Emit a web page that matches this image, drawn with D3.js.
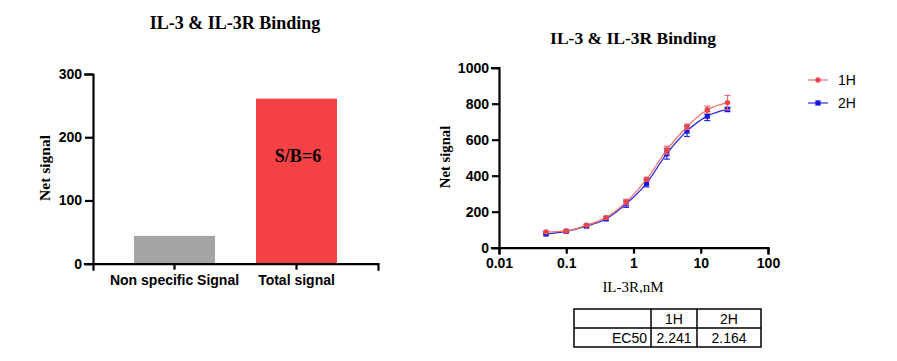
<!DOCTYPE html>
<html>
<head>
<meta charset="utf-8">
<script src="https://cdn.jsdelivr.net/npm/d3@7"></script>
<style>
	body { margin: 0; background: #fff; }
	svg { display: block; }
	.tick text { font-family: "Liberation Sans", Arial, sans-serif; font-weight: bold; font-size: 14px; fill: #000; }
</style>
</head>
<body>
<div id="chart"></div>
<script>
// bar chart data
let barCategories = ["Non specific Signal", "Total signal"];
let barValues = [44, 261];
let barColors = ["#a5a5a8", "#f64245"];

// binding curve data
let concentrations = [0.05, 0.1, 0.2, 0.39, 0.78, 1.56, 3.125, 6.25, 12.5, 25];
let signal1H = [87, 93, 125, 167, 254, 380, 542, 672, 766, 806];
let error1H = [5, 5, 6, 8, 15, 10, 22, 15, 20, 40];
let signal2H = [76, 91, 120, 160, 244, 358, 522, 648, 731, 768];
let error2H = [5, 5, 6, 8, 20, 20, 30, 30, 25, 12];
let seriesNames = ["1H", "2H"];
let xTicks = [0.01, 0.1, 1, 10, 100];
let yTicksBar = [0, 100, 200, 300];
let yTicksCurve = [0, 200, 400, 600, 800, 1000];

// EC50 table
let tableHeader = ["", "1H", "2H"];
let tableRow = ["EC50", "2.241", "2.164"];

let svg = d3.select("#chart").append("svg").attr("width", 897).attr("height", 361);

let serif = "'Liberation Serif', 'Times New Roman', serif";
let sans = "'Liberation Sans', Arial, sans-serif";

//
//	bar chart
//
let xBand = d3.scaleBand().domain(barCategories).range([93, 378]).padding(0.336);
let yBar = d3.scaleLinear().domain([0, 300]).range([263.7, 74]);

svg.append("text").attr("x", 235).attr("y", 29).attr("text-anchor", "middle")
	.style("font-family", serif).style("font-weight", "bold").style("font-size", "18px")
	.text("IL-3 & IL-3R Binding");

svg.selectAll("rect.bar").data(barValues).enter().append("rect")
	.attr("class", "bar")
	.attr("x", (d, i) => xBand(barCategories[i]))
	.attr("y", (d) => yBar(d))
	.attr("width", xBand.bandwidth())
	.attr("height", (d) => yBar(0) - yBar(d))
	.attr("fill", (d, i) => barColors[i]);

svg.append("g").attr("transform", "translate(93,0)")
	.call(d3.axisLeft(yBar).tickValues(yTicksBar).tickSize(8).tickPadding(3).tickFormat(d3.format("d")));
svg.append("g").attr("transform", "translate(0,263.7)")
	.call(d3.axisBottom(xBand).tickSize(6).tickPadding(5));

svg.append("text").attr("x", 298).attr("y", 162).attr("text-anchor", "middle")
	.style("font-family", serif).style("font-weight", "bold").style("font-size", "18px")
	.text("S/B=6");

svg.append("text").attr("transform", "translate(50,168) rotate(-90)").attr("text-anchor", "middle")
	.style("font-family", serif).style("font-weight", "bold").style("font-size", "15.5px")
	.text("Net signal");

//
//	binding curve
//
let xLog = d3.scaleLog().domain([0.01, 100]).range([499, 768]);
let yLin = d3.scaleLinear().domain([0, 1000]).range([247.7, 67.7]);

svg.append("text").attr("x", 633).attr("y", 44).attr("text-anchor", "middle")
	.style("font-family", serif).style("font-weight", "bold").style("font-size", "17.5px")
	.text("IL-3 & IL-3R Binding");

svg.append("g").attr("transform", "translate(499,0)")
	.call(d3.axisLeft(yLin).tickValues(yTicksCurve).tickSize(7).tickPadding(3).tickFormat(d3.format("d")));
svg.append("g").attr("transform", "translate(0,247.7)")
	.call(d3.axisBottom(xLog).tickValues(xTicks).tickSize(6).tickPadding(4).tickFormat((d) => String(d)));

svg.selectAll(".domain, .tick line").attr("stroke", "#000").attr("stroke-width", 2.2);
svg.selectAll(".domain").attr("stroke-linecap", "square");

svg.append("text").attr("x", 633).attr("y", 292).attr("text-anchor", "middle")
	.style("font-family", serif).style("font-size", "15px")
	.text("IL-3R,nM");
svg.append("text").attr("transform", "translate(450,157) rotate(-90)").attr("text-anchor", "middle")
	.style("font-family", serif).style("font-weight", "bold").style("font-size", "14.7px")
	.text("Net signal");

let series = [
	{ name: seriesNames[0], values: signal1H, errors: error1H, line: "#ee6f73", mark: "#e8454a", shape: "circle" },
	{ name: seriesNames[1], values: signal2H, errors: error2H, line: "#2a2ad8", mark: "#1515e8", shape: "square" },
];

let line = d3.line().curve(d3.curveMonotoneX).x((d) => xLog(d[0])).y((d) => yLin(d[1]));

function drawMarker(g, shape, color, cx, cy) {
	if (shape === "circle") {
		g.append("circle").attr("cx", cx).attr("cy", cy).attr("r", 2.7).attr("fill", color);
	} else {
		g.append("rect").attr("x", cx - 2.6).attr("y", cy - 2.6).attr("width", 5.2).attr("height", 5.2).attr("fill", color);
	}
}

// draw blue first so red sits on top like the reference
[series[1], series[0]].forEach((s) => {
	let g = svg.append("g");
	let pts = concentrations.map((c, i) => [c, s.values[i]]);
	g.append("path").attr("d", line(pts)).attr("fill", "none").attr("stroke", s.line).attr("stroke-width", 1.2);
	concentrations.forEach((c, i) => {
		let cx = xLog(c);
		let top = yLin(s.values[i] + s.errors[i]);
		let bot = yLin(s.values[i] - s.errors[i]);
		g.append("line").attr("x1", cx).attr("x2", cx).attr("y1", top).attr("y2", bot).attr("stroke", s.line).attr("stroke-width", 1.2);
		g.append("line").attr("x1", cx - 3).attr("x2", cx + 3).attr("y1", top).attr("y2", top).attr("stroke", s.line).attr("stroke-width", 1.2);
		g.append("line").attr("x1", cx - 3).attr("x2", cx + 3).attr("y1", bot).attr("y2", bot).attr("stroke", s.line).attr("stroke-width", 1.2);
		drawMarker(g, s.shape, s.mark, cx, yLin(s.values[i]));
	});
});

// legend
series.forEach((s, i) => {
	let ly = 80 + i * 23;
	let g = svg.append("g");
	g.append("line").attr("x1", 808).attr("x2", 828).attr("y1", ly).attr("y2", ly).attr("stroke", s.line).attr("stroke-width", 1.2);
	drawMarker(g, s.shape, s.mark, 818, ly);
	g.append("text").attr("x", 838).attr("y", ly + 5).style("font-family", sans).style("font-size", "14px").text(s.name);
});

//
//	EC50 table
//
let colEdges = [574, 651, 697, 761];
let rowEdges = [309, 328, 347];
let table = svg.append("g");
table.append("rect").attr("x", colEdges[0]).attr("y", rowEdges[0])
	.attr("width", colEdges[3] - colEdges[0]).attr("height", rowEdges[2] - rowEdges[0])
	.attr("fill", "none").attr("stroke", "#000").attr("stroke-width", 1.5);
table.append("line").attr("x1", colEdges[0]).attr("x2", colEdges[3]).attr("y1", rowEdges[1]).attr("y2", rowEdges[1]).attr("stroke", "#000").attr("stroke-width", 1.5);
[colEdges[1], colEdges[2]].forEach((cx) => {
	table.append("line").attr("x1", cx).attr("x2", cx).attr("y1", rowEdges[0]).attr("y2", rowEdges[2]).attr("stroke", "#000").attr("stroke-width", 1.5);
});
[tableHeader, tableRow].forEach((row, r) => {
	row.forEach((txt, c) => {
		let t = table.append("text").attr("y", rowEdges[r] + 15)
			.style("font-family", sans).style("font-size", "14px").text(txt);
		if (c === 0) {
			t.attr("x", colEdges[1] - 4).attr("text-anchor", "end");
		} else {
			t.attr("x", (colEdges[c] + colEdges[c + 1]) / 2).attr("text-anchor", "middle");
		}
	});
});
</script>
</body>
</html>
